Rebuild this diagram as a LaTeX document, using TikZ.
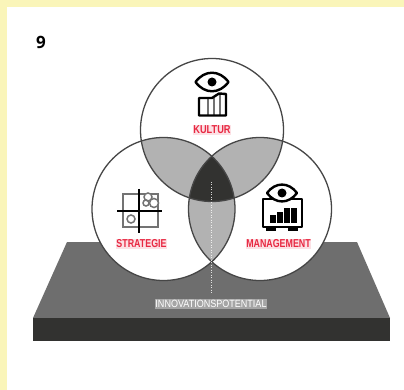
\documentclass[tikz,border=0pt]{standalone}
\usepackage{fontspec}
\setmainfont{Liberation Sans}
\newfontfamily\numfont{Open Sans}
\usetikzlibrary{positioning}
\definecolor{mypaper}{RGB}{250,245,185}
\definecolor{mylens}{RGB}{178,178,178}
\definecolor{mydark}{RGB}{50,50,48}
\definecolor{myface}{RGB}{110,110,110}
\definecolor{myring}{RGB}{70,70,70}
\definecolor{myred}{RGB}{232,40,66}
\tikzset{
  ring/.style={draw=myring, line width=1.3},
  redlabel/.style={text=myred, fill=myred!14, font=\bfseries\fontsize{11.5}{11.5}\selectfont, inner xsep=.5, inner ysep=1, anchor=center},
  iconline/.style={draw=black, line width=2.4, line join=round},
  iconthin/.style={draw=black!55, line width=1.5},
}
\newcommand{\circK}{(212,130) circle (71.5)}
\newcommand{\circS}{(163.5,209) circle (71.5)}
\newcommand{\circM}{(260,209) circle (71.5)}
\newcommand{\eyeicon}[3]{
  \draw[iconline, fill=white] (#1-#3,#2) .. controls (#1-#3*0.45,#2-#3*0.75) and (#1+#3*0.45,#2-#3*0.75) .. (#1+#3,#2)
     .. controls (#1+#3*0.45,#2+#3*0.75) and (#1-#3*0.45,#2+#3*0.75) .. (#1-#3,#2) -- cycle;
  \fill[black] (#1,#2) circle (4.5);
}
\begin{document}
\begin{tikzpicture}[x=1pt,y=-1pt]
\useasboundingbox (0,0) rectangle (404,390);
\fill[mypaper] (0,0) rectangle (404,390);
\fill[white] (7,7) rectangle (404,390);

\node[inner sep=0, font=\numfont\bfseries\fontsize{17}{17}\selectfont] (number) at (41,42) {9};

% platform
\fill[myface] (67,242) -- (357,242) -- (390,318) -- (33,318) -- cycle;
\fill[mydark] (33,318) rectangle (390,341);

% circles and overlaps
\fill[white] \circK;
\fill[white] \circS;
\fill[white] \circM;
\begin{scope}
  \clip \circK;
  \fill[mylens] \circS;
  \fill[mylens] \circM;
\end{scope}
\begin{scope}
  \clip \circS;
  \fill[mylens] \circM;
  \clip \circM;
  \fill[mydark] \circK;
\end{scope}
\draw[ring] \circK;
\draw[ring] \circS;
\draw[ring] \circM;

\coordinate (dottop) at (211.5,182);
\coordinate (dotbottom) at (211.5,293);
\draw[white, line width=1, dash pattern=on 1pt off 1.5pt, opacity=.8] (dottop) -- (dotbottom);

% kultur icon
\eyeicon{212}{82}{16.5}
\draw[iconthin] (208,99) -- (208,115);
\draw[iconthin] (214,98) -- (214,115);
\draw[iconthin] (220,95) -- (220,115);
\draw[iconline] (199,115.5) -- (199,98) -- (212,98) -- (219,93.5) -- (226,94) -- (226,115.5) -- cycle;

% strategie icon
\draw[iconthin] (123,194) rectangle (158,227);
\draw[iconthin, fill=white] (148,197) circle (4);
\draw[iconthin, fill=white] (154,203) circle (4.5);
\draw[iconthin] (146,203) circle (3);
\draw[iconthin] (131,219) circle (4);
\draw[iconline, line width=2.8] (117,211) -- (162,211);
\draw[iconline, line width=2.8] (139,189) -- (139,233);

% management icon
\draw[iconline] (263,199) rectangle (302,227);
\fill[black] (266,227) rectangle (276,231);
\fill[black] (288,227) rectangle (298,231);
\fill[black] (270,215) rectangle (275.5,223);
\fill[black] (277,212) rectangle (282.5,223);
\fill[black] (284,208) rectangle (289.5,223);
\fill[black] (291,208) rectangle (296.5,223);
\eyeicon{282}{193}{15}

\node[redlabel, xscale=.8] (kultur) at (212,130) {KULTUR};
\node[redlabel, xscale=.77] (strategie) at (141.5,244) {STRATEGIE};
\node[redlabel, xscale=.77] (management) at (278.5,244) {MANAGEMENT};
\node[text=white, fill=white!38!myface, inner xsep=0, inner ysep=1.5, font=\fontsize{10.5}{10.5}\selectfont, xscale=.86] (innovation) at (211,304) {INNOVATIONSPOTENTIAL};

\end{tikzpicture}
\end{document}
